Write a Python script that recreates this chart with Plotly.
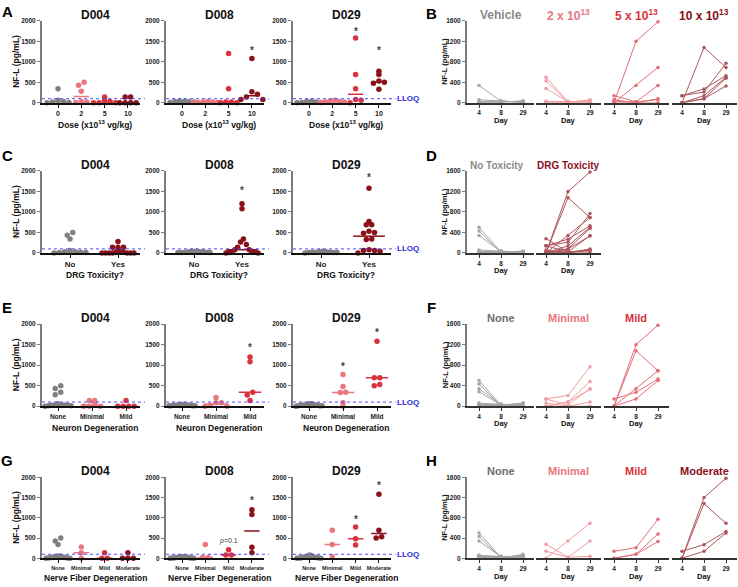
import statistics
import plotly.graph_objects as go

W, H = 738, 587
FONT = "Liberation Sans, Arial, sans-serif"

# ---------------- data: one entry per animal ----------------
dose_group = [0, 0, 0, 0, 0, 0, 1, 1, 1, 1, 1, 1, 2, 2, 2, 2, 2, 2, 3, 3, 3, 3, 3, 3]
nfl_d4 = [340, 60, 30, 10, 0, 20, 500, 430, 280, 20, 30, 10, 0, 0, 140, 60, 30, 0, 0, 140, 140, 0, 0, 0]
nfl_d8 = [30, 40, 20, 30, 10, 40, 20, 10, 20, 10, 30, 10, 1200, 340, 20, 0, 20, 0, 1080, 210, 270, 140, 80, 80]
nfl_d29 = [20, 10, 30, 10, 40, 0, 30, 20, 40, 60, 20, 10, 1580, 690, 340, 80, 60, 0, 690, 770, 530, 500, 480, 330]
drg_tox = [0, 0, 0, 0, 0, 0, 0, 0, 1, 1, 0, 0, 1, 1, 1, 1, 1, 1, 1, 1, 1, 1, 1, 1]
neuron_deg = [0, 0, 0, 0, 0, 0, 0, 0, 0, 0, 0, 0, 2, 2, 1, 1, 0, 1, 2, 1, 2, 2, 1, 1]
nerve_deg = [0, 0, 0, 0, 0, 0, 0, 0, 1, 0, 0, 0, 3, 1, 1, 0, 0, 0, 3, 2, 3, 3, 2, 2]

dose_labels = ["0", "2", "5", "10"]
tox_labels = ["No", "Yes"]
neuron_labels = ["None", "Minimal", "Mild"]
nerve_labels = ["None", "Minimal", "Mild", "Moderate"]

dose_titles = ["Vehicle", "2 x 10<sup>13</sup>", "5 x 10<sup>13</sup>", "10 x 10<sup>13</sup>"]
tox_titles = ["No Toxicity", "DRG Toxicity"]

day_names = ["D004", "D008", "D029"]
day_ticks = ["4", "8", "29"]
lloq = 100

# significance marks: (row, day index, group index, y value, text)
sig_marks = [
    (0, 1, 3, 1280, "*"), (0, 2, 2, 1750, "*"), (0, 2, 3, 1280, "*"),
    (1, 1, 1, 1520, "*"), (1, 2, 1, 1850, "*"),
    (2, 1, 2, 1440, "*"), (2, 2, 1, 970, "*"), (2, 2, 2, 1790, "*"),
    (3, 1, 2, 430, "<i>p</i>=0.1"), (3, 1, 3, 1430, "*"), (3, 2, 2, 970, "*"), (3, 2, 3, 1800, "*"),
]

GRAY, PINK, RED, DARK = "#808080", "#e8777e", "#d8323e", "#8a1119"

rows = [
    dict(letter="A", letter_r="B", group=dose_group, labels=dose_labels, colors=[GRAY, PINK, RED, DARK],
         rtitles=dose_titles, rsize=12, xtitle="Dose (x10<sup>13</sup> vg/kg)", tsize=7),
    dict(letter="C", letter_r="D", group=drg_tox, labels=tox_labels, colors=[GRAY, DARK],
         rtitles=tox_titles, rsize=10, xtitle="DRG Toxicity?", tsize=8),
    dict(letter="E", letter_r="F", group=neuron_deg, labels=neuron_labels, colors=[GRAY, PINK, RED],
         rtitles=neuron_labels, rsize=11, xtitle="Neuron Degeneration", tsize=6.5),
    dict(letter="G", letter_r="H", group=nerve_deg, labels=nerve_labels, colors=[GRAY, PINK, RED, DARK],
         rtitles=nerve_labels, rsize=11, xtitle="Nerve Fiber Degeneration", tsize=5.5),
]

# ---------------- layout geometry (pixels) ----------------
ROW_TOP = [17, 169, 324, 479]
ROW_BOT = [100, 252, 407, 561]
LETTER_Y = [8, 153, 307, 462]
LEFT_X = [(42, 140), (166, 264), (293, 391)]
CAT_FIRST = {4: 16, 2: 28, 3: 16}
CAT_STEP = {4: 23.3, 2: 48, 3: 34}
SWARM_HALF = [12, 16, 13, 12]
R_CENTERS = [501, 568, 636, 704]
R_STEP = 22

layout = dict(width=W, height=H, margin=dict(l=0, r=0, t=0, b=0), paper_bgcolor="white",
              plot_bgcolor="white", showlegend=False, font=dict(family=FONT))
annotations, shapes, traces = [], [], []
counter = [0]


def tf(size, color="#222"):
    return dict(family=FONT, size=size, color=color, weight="bold")


def new_axes(xd, yd, xr, yr, xopts, yopts):
    counter[0] += 1
    n = counter[0]
    s = "" if n == 1 else str(n)
    layout["xaxis" + s] = dict(domain=[xd[0] / W, xd[1] / W], range=xr, anchor="y" + s, showgrid=False,
                               zeroline=False, fixedrange=True, **xopts)
    layout["yaxis" + s] = dict(domain=[1 - yd[1] / H, 1 - yd[0] / H], range=yr, anchor="x" + s,
                               showgrid=False, zeroline=False, fixedrange=True, **yopts)
    return "x" + s, "y" + s


def swarm(vals, px_per_val, px_per_cat, half_px):
    order = sorted(range(len(vals)), key=lambda i: vals[i])
    clusters = []
    for i in order:
        if clusters and (vals[i] - vals[clusters[-1][-1]]) * px_per_val < 3.0:
            clusters[-1].append(i)
        else:
            clusters.append([i])
    offs = [0.0] * len(vals)
    for cl in clusters:
        n = len(cl)
        sp = 5.5
        if n > 1 and (n - 1) * sp / 2 > half_px:
            sp = 2 * half_px / (n - 1)
        arranged = cl[0::2] + cl[1::2][::-1]
        for k, i in enumerate(arranged):
            offs[i] = (k - (n - 1) / 2) * sp / px_per_cat
    return offs


def annot(text, x, y, size, color="#111", xref="paper", yref="paper", angle=0, xanchor="center",
          yanchor="middle"):
    if xref == "paper":
        x = x / W
    if yref == "paper":
        y = 1 - y / H
    annotations.append(dict(text=text, x=x, y=y, xref=xref, yref=yref, showarrow=False, textangle=angle,
                            font=tf(size, color), xanchor=xanchor, yanchor=yanchor))


days_vals = [nfl_d4, nfl_d8, nfl_d29]
N = len(dose_group)

for r, row in enumerate(rows):
    top, bot = ROW_TOP[r], ROW_BOT[r]
    ncat = len(row["labels"])
    first, step = CAT_FIRST[ncat], CAT_STEP[ncat]
    px_per_val = (bot - top) / 2000.0
    # ---------- left: scatter dot plots ----------
    for d in range(3):
        xd = LEFT_X[d]
        width = xd[1] - xd[0]
        xr = [-first / step, (width - first) / step]
        xopts = dict(showline=True, linecolor="#111", linewidth=1.5, ticks="outside", ticklen=3, tickwidth=1,
                     tickcolor="#111", tickvals=list(range(ncat)), ticktext=row["labels"], tickangle=0,
                     tickfont=tf(row["tsize"]))
        yopts = dict(showline=True, linecolor="#7a7a7a", linewidth=2, ticks="outside", ticklen=3,
                     tickwidth=1, tickcolor="#7a7a7a", tickvals=[0, 500, 1000, 1500, 2000],
                     tickfont=tf(6.5))
        xa, ya = new_axes(xd, (top, bot), xr, [0, 2000], xopts, yopts)
        vals = days_vals[d]
        for g in range(ncat):
            members = [i for i in range(N) if row["group"][i] == g]
            v = [vals[i] for i in members]
            offs = swarm(v, px_per_val, step, SWARM_HALF[r])
            col = row["colors"][g]
            traces.append(go.Scatter(x=[g + o for o in offs], y=v, mode="markers", xaxis=xa, yaxis=ya,
                                     cliponaxis=False, hoverinfo="skip",
                                     marker=dict(size=5.5, color=col, line=dict(width=0))))
            med = statistics.median(v)
            traces.append(go.Scatter(x=[g - 0.33, g + 0.33], y=[med, med], mode="lines", xaxis=xa, yaxis=ya,
                                     cliponaxis=False, hoverinfo="skip", line=dict(color=col, width=1.5)))
        shapes.append(dict(type="line", xref=xa + " domain", yref=ya, x0=0, x1=1.05, y0=lloq, y1=lloq,
                           line=dict(color="#4a4aff", width=1, dash="dot")))
        annot(day_names[d], (xd[0] + xd[1]) / 2 + 4, top - 6, 12, "#111")
        annot(row["xtitle"], (xd[0] + xd[1]) / 2 + 4, bot + 22 if r < 3 else bot + 20, 8.5, "#111")
        if d == 0:
            annot("NF-L (pg/mL)", 16, (top + bot) / 2, 8.5, "#111", angle=-90)
        if d == 2:
            annot("LLOQ", xd[1] + 17, lloq, 8, "#2a2ae0", yref=ya)
        for (sr, sd, sg, sy, st) in sig_marks:
            if sr == r and sd == d:
                annotations.append(dict(text=st, x=sg, y=sy, xref=xa, yref=ya, showarrow=False,
                                        font=dict(family=FONT, size=10 if st == "*" else 7, color="#444",
                                                  weight="bold" if st == "*" else "normal")))
    annot(row["letter"], 7, LETTER_Y[r], 15, "#000")

    # ---------- right: individual trajectories ----------
    for g in range(ncat):
        c = R_CENTERS[g]
        xd = (467, 534) if g == 0 else (c - 32, c + 33)
        xr = [1 + (xd[0] - c) / R_STEP, 1 + (xd[1] - c) / R_STEP]
        xopts = dict(showline=True, linecolor="#333", linewidth=1.5, ticks="outside", ticklen=3, tickwidth=1,
                     tickcolor="#333", tickvals=[0, 1, 2], ticktext=day_ticks, tickangle=0, tickfont=tf(6.5))
        if g == 0:
            yopts = dict(showline=True, linecolor="#7a7a7a", linewidth=2, ticks="outside", ticklen=3,
                         tickwidth=1, tickcolor="#7a7a7a", tickvals=[0, 400, 800, 1200, 1600],
                         tickfont=tf(6.5))
        else:
            yopts = dict(visible=False)
        xa, ya = new_axes(xd, (top, bot), xr, [0, 1600], xopts, yopts)
        col = row["colors"][g]
        xs, ys = [], []
        for i in range(N):
            if row["group"][i] == g:
                xs += [0, 1, 2, None]
                ys += [nfl_d4[i], nfl_d8[i], nfl_d29[i], None]
        traces.append(go.Scatter(x=xs, y=ys, mode="lines+markers", xaxis=xa, yaxis=ya, cliponaxis=False,
                                 hoverinfo="skip", opacity=0.7,
                                 line=dict(color=col, width=1), marker=dict(size=3.5, color=col)))
        tcol = col if g > 0 else ("#8a8a8a" if r < 2 else "#6e6e6e")
        annot(row["rtitles"][g], c - (4 if (r == 1 and g == 0) else 0), top - 6, row["rsize"], tcol)
        annot("Day", c, bot + 18, 7.5, "#111")
        if g == 0:
            annot("NF-L (pg/mL)", 445, (top + bot) / 2, 7.5, "#111", angle=-90)
    annot(row["letter_r"], 431, LETTER_Y[r] + (2 if r == 0 else 0), 15, "#000")

layout["annotations"] = annotations
layout["shapes"] = shapes
fig = go.Figure(data=traces, layout=layout)
fig.write_html("out.html", config={"displayModeBar": False},
               post_script="document.body.style.margin='0px';document.body.style.overflow='hidden';")
